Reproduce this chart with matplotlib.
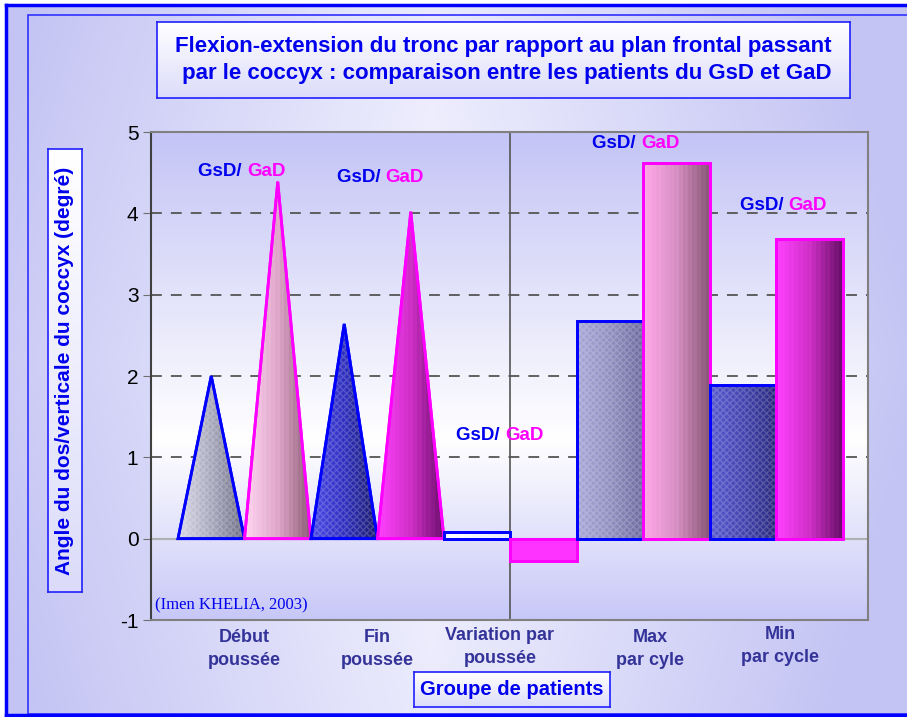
import matplotlib.pyplot as plt
import numpy as np
from matplotlib.patches import Polygon, Rectangle
from matplotlib.colors import LinearSegmentedColormap

plt.rcParams['font.family'] = ['Liberation Sans', 'DejaVu Sans']
plt.rcParams['axes.unicode_minus'] = False

# données
categories = ["Début\npoussée", "Fin\npoussée", "Variation par\npoussée",
              "Max\npar cyle", "Min\npar cycle"]
gsd = [2.0, 2.64, 0.08, 2.68, 1.89]
gad = [4.39, 4.02, -0.28, 4.62, 3.69]
formes = ["cone", "cone", "barre", "barre", "barre"]
# position des étiquettes GsD/GaD (x catégorie, y)
etiquettes_x = [0.02, 1.06, 1.96, 2.98, 4.09]
etiquettes_y = [4.52, 4.44, 1.27, 4.86, 4.1]

# couleurs des remplissages (gauche -> droite)
couleurs_gsd = [["#d8d8e8", "#a8a8bc", "#707088"],
                ["#4a4ae8", "#3030c0", "#1c1c70"],
                ["#ffffff", "#f4f4ff", "#e8e8ff"],
                ["#a8a8d8", "#9090c0", "#6c6ca0"],
                ["#5a5ad0", "#4444b0", "#2a2a80"]]
couleurs_gad = [["#ffd4f0", "#e0a8cc", "#906078"],
                ["#ff40ff", "#d030c8", "#701070"],
                ["#ff33ff", "#ff33ff", "#ff33ff"],
                ["#ffa8e8", "#d890c4", "#8a5878"],
                ["#ff40ff", "#d030c8", "#6a106a"]]

fig = plt.figure(figsize=(9.07, 7.17), dpi=100)

# fond du graphique (dégradé lavande)
fond = fig.add_axes([0, 0, 1, 1], zorder=-10)
xx = np.linspace(-1, 1, 300)
yy = np.linspace(-1, 1, 240)
X, Y = np.meshgrid(xx, yy)
g = np.clip(1 - np.abs(X + 0.05) * 0.9 - np.abs(Y) * 0.2, 0, 1)
cm_fond = LinearSegmentedColormap.from_list("fond", ["#c4c4f4", "#f4f4ff"])
fond.imshow(g, cmap=cm_fond, aspect='auto', extent=[0, 1, 0, 1])
fond.set_xlim(0, 1)
fond.set_ylim(0, 1)
fond.axis('off')
W, H = 907, 717
fond.add_patch(Rectangle((0, 1 - 4 / H), 1, 4 / H, color="white", lw=0))
fond.add_patch(Rectangle((0, 0), 5 / W, 1, color="white", lw=0))
fond.plot([6 / W, 6 / W], [0, 1 - 5 / H], color="#0000ff", lw=2.5)
fond.plot([6 / W, 1], [1 - 5 / H, 1 - 5 / H], color="#0000ff", lw=2.5)
fond.plot([6 / W, 1], [2 / H, 2 / H], color="#0000ff", lw=2.5)
fond.add_patch(Rectangle((28 / W, 3 / H), 1, 1 - 18 / H, fill=False,
                         edgecolor="#3030ff", lw=1.2))


def boite(x0, y0, x1, y1):
    # petit cadre avec dégradé, coordonnées en pixels
    b = fig.add_axes([x0 / W, 1 - y1 / H, (x1 - x0) / W, (y1 - y0) / H], zorder=5)
    grad = np.linspace(0, 1, 100).reshape(-1, 1)
    cm = LinearSegmentedColormap.from_list("b", ["#ffffff", "#dcdcfa"])
    b.imshow(grad, cmap=cm, aspect='auto', extent=[0, 1, 0, 1])
    b.set_xticks([])
    b.set_yticks([])
    for s in b.spines.values():
        s.set_color("#2020ff")
        s.set_linewidth(1.2)
    return b


# titre
t = boite(157, 22, 850, 98)
t.text(0.5, 0.5, "Flexion-extension du tronc par rapport au plan frontal passant\n"
       " par le coccyx : comparaison entre les patients du GsD et GaD",
       ha='center', va='center', color="#0000ee", fontsize=16, fontweight='bold',
       linespacing=1.35, transform=t.transAxes)

# titre axe y
yl = boite(48, 149, 82, 592)
yl.text(0.5, 0.5, "Angle du dos/verticale du coccyx (degré)", rotation=90,
        ha='center', va='center', color="#0000ee", fontsize=15, fontweight='bold',
        transform=yl.transAxes)

# titre axe x
xl = boite(414, 672, 610, 707)
xl.text(0.5, 0.5, "Groupe de patients", ha='center', va='center', color="#0000ee",
        fontsize=14.5, fontweight='bold', transform=xl.transAxes)

# zone de tracé
ax = fig.add_axes([151 / W, 1 - 620 / H, 717 / W, 488 / H])
ax.set_xlim(-0.703, 4.688)
ax.set_ylim(-1, 5)
ax.patch.set_alpha(0)

grad = np.linspace(-1, 5, 300).reshape(-1, 1)
cm_zone = LinearSegmentedColormap.from_list(
    "zone", [(0, "#c8c8f8"), (0.37, "#ffffff"), (1, "#c4c4f6")])
ax.imshow(grad, cmap=cm_zone, aspect='auto', origin='lower',
          extent=[-0.703, 4.688, -1, 5], zorder=0)

for v in [1, 2, 3, 4]:
    ax.axhline(v, color="#555555", lw=1.3, ls=(0, (6, 5)), zorder=1)
ax.axhline(0, color="#b0b0b0", lw=1.5, zorder=1)
ax.axvline(2, color="#555555", lw=1.2, zorder=1)

largeur = 0.5


def remplir(x0, x1, y0, y1, couleurs, contour, forme, trame):
    if forme == "cone":
        pts = [(x0, 0), ((x0 + x1) / 2, y1), (x1, 0)]
    else:
        pts = [(x0, y0), (x0, y1), (x1, y1), (x1, y0)]
    cm = LinearSegmentedColormap.from_list("r", couleurs)
    # rayures verticales fines pour l'effet cylindre
    n = 60
    g = np.linspace(0, 1, n)
    g = g + 0.04 * (np.arange(n) % 4 < 2)
    im = ax.imshow(g.reshape(1, -1), cmap=cm, aspect='auto',
                   extent=[x0, x1, min(y0, y1), max(y0, y1)], zorder=3,
                   interpolation='nearest')
    p = Polygon(pts, closed=True, facecolor='none', edgecolor=contour, lw=2, zorder=4)
    ax.add_patch(p)
    im.set_clip_path(p)
    if trame:
        h = Polygon(pts, closed=True, facecolor='none', edgecolor=(1, 1, 1, 0.18),
                    hatch='xxxxx', lw=0, zorder=3.5)
        ax.add_patch(h)
    ax.add_patch(Polygon(pts, closed=True, facecolor='none', edgecolor=contour,
                         lw=2, zorder=4))


for i in range(len(categories)):
    remplir(i - largeur, i, 0, gsd[i], couleurs_gsd[i], "#0000ff", formes[i], True)
    remplir(i, i + largeur, 0, gad[i], couleurs_gad[i], "#ff00ff", formes[i], False)
    ax.text(etiquettes_x[i], etiquettes_y[i], "GsD/ ", ha='right', va='center',
            color="#0000ee", fontsize=13.5, fontweight='bold', zorder=6)
    ax.text(etiquettes_x[i], etiquettes_y[i], "GaD", ha='left', va='center',
            color="#ff00ff", fontsize=13.5, fontweight='bold', zorder=6)

ax.set_xticks([])
ax.set_yticks(range(-1, 6))
ax.tick_params(axis='y', length=6, color="#707070", labelsize=15, pad=3)
for s in ["top", "right", "bottom"]:
    ax.spines[s].set_color("#808080")
    ax.spines[s].set_linewidth(1.5)
ax.spines["left"].set_color("#404040")
ax.spines["left"].set_linewidth(1.5)

ax.text(0.006, 0.03, "(Imen KHELIA, 2003)", color="#0000ee", fontsize=12,
        family="Liberation Serif", va='center', transform=ax.transAxes, zorder=6)

# étiquettes des catégories
decal_y = [-1.36, -1.36, -1.33, -1.36, -1.32]
decal_x = [0.0, 0.0, -0.08, 0.05, 0.03]
for i, c in enumerate(categories):
    ax.text(i + decal_x[i], decal_y[i], c, ha='center', va='center',
            color="#333399", fontsize=13, fontweight='bold', linespacing=1.45,
            clip_on=False)

fig.savefig("out.png", dpi=100)
